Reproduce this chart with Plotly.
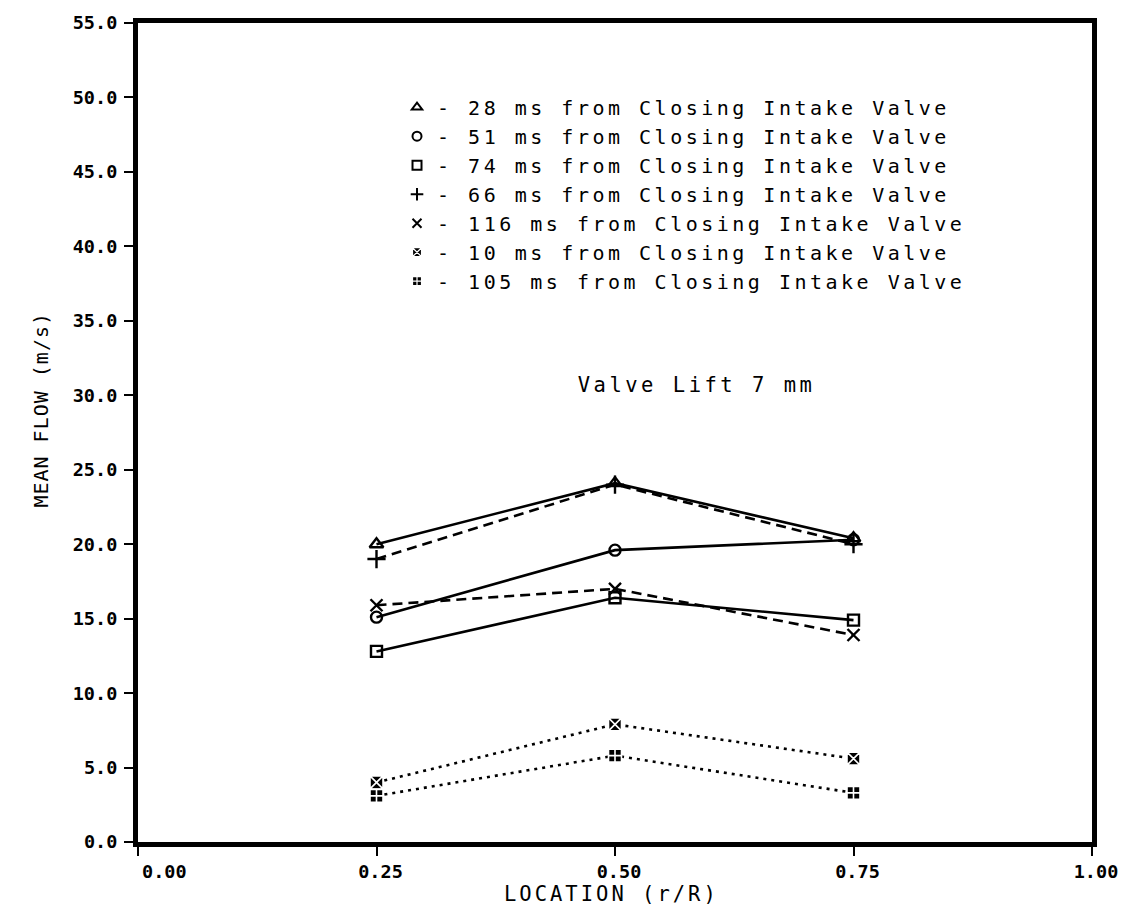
import plotly.graph_objects as go

# Radial location across the port (r/R)
location = [0.25, 0.50, 0.75]

# Mean flow velocity (m/s) at each location, by time after intake valve closing
flow_28ms = [20.0, 24.1, 20.4]
flow_51ms = [15.1, 19.6, 20.3]
flow_74ms = [12.8, 16.4, 14.9]
flow_66ms = [19.0, 24.0, 20.0]
flow_116ms = [15.9, 17.0, 13.9]
flow_10ms = [4.0, 7.9, 5.6]
flow_105ms = [3.1, 5.8, 3.3]

series_names = [
    "- 28 ms from Closing Intake Valve",
    "- 51 ms from Closing Intake Valve",
    "- 74 ms from Closing Intake Valve",
    "- 66 ms from Closing Intake Valve",
    "- 116 ms from Closing Intake Valve",
    "- 10 ms from Closing Intake Valve",
    "- 105 ms from Closing Intake Valve",
]

x_tick_vals = [0.0, 0.25, 0.50, 0.75, 1.00]
x_tick_text = ["\u00a0\u00a0\u00a0\u00a00.00", "0.25", "0.50", "0.75", "1.00"]
y_tick_vals = [0, 5, 10, 15, 20, 25, 30, 35, 40, 45, 50, 55]
y_tick_text = ["0.0", "5.0", "10.0", "15.0", "20.0", "25.0", "30.0",
               "35.0", "40.0", "45.0", "50.0", "55.0"]

MONO = "DejaVu Sans Mono"
INK = "black"

styles = [
    # (values, symbol, dash, marker size, marker fill, marker line colour)
    (flow_28ms, "triangle-up-open", "solid", 12, INK, INK),
    (flow_51ms, "circle-open", "solid", 11, INK, INK),
    (flow_74ms, "square-open", "solid", 11, INK, INK),
    (flow_66ms, "cross-thin-open", "10px,6px", 13, INK, INK),
    (flow_116ms, "x-thin-open", "10px,6px", 12, INK, INK),
    (flow_10ms, "square-x", "3px,5px", 13, INK, "white"),
    (flow_105ms, "square-cross", "3px,5px", 13, INK, "white"),
]

fig = go.Figure()

for (vals, sym, dash, size, fill, mline), name in zip(styles, series_names):
    is_open = "open" in sym
    fig.add_trace(go.Scatter(
        x=location, y=vals, mode="lines+markers", showlegend=False,
        line=dict(color=INK, width=2.6, dash=dash),
        marker=dict(symbol=sym, size=size, color=fill,
                    line=dict(color=INK if is_open else mline,
                              width=2.4 if is_open else 1.6)),
    ))

# Legend entries show the marker symbol only
for (vals, sym, dash, size, fill, mline), name in zip(styles, series_names):
    is_open = "open" in sym
    fig.add_trace(go.Scatter(
        x=[None], y=[None], mode="markers", name=name, showlegend=True,
        marker=dict(symbol=sym, size=9, color=fill,
                    line=dict(color=INK if is_open else mline,
                              width=2 if is_open else 1.2)),
    ))

L, R, T, B = 138, 38, 19, 73
W, H = 1130, 915
pw, ph = W - L - R, H - T - B

fig.add_annotation(
    text="Valve Lift 7 mm", x=0.585, y=0.558, xref="paper", yref="paper",
    showarrow=False, font=dict(family=MONO, size=20.5, color=INK),
)

# Axis titles
fig.add_annotation(
    text="LOCATION (r/R)", x=(611 - L) / pw, y=(H - B - 894) / ph,
    xref="paper", yref="paper", yanchor="middle",
    showarrow=False, font=dict(family=MONO, size=20.5, color=INK),
)
fig.add_annotation(
    text="MEAN FLOW (m/s)", x=(27 - L) / pw, y=(H - B - 408) / ph,
    xref="paper", yref="paper",
    showarrow=False, textangle=-90, font=dict(family=MONO, size=20, color=INK),
)

fig.update_layout(
    width=W, height=H,
    margin=dict(l=L, r=R, t=T, b=B, pad=0),
    paper_bgcolor="white", plot_bgcolor="white",
    font=dict(family=MONO, color=INK),
    legend=dict(
        x=0.2715, y=0.921, xanchor="left", yanchor="top",
        bgcolor="rgba(0,0,0,0)", borderwidth=0,
        font=dict(family=MONO, size=20, color=INK),
        itemwidth=30, tracegroupgap=0,
    ),
    xaxis=dict(
        range=[0, 1], tickvals=x_tick_vals, ticktext=x_tick_text,
        showgrid=False, zeroline=False,
        showline=True, linewidth=5, linecolor=INK, mirror=True,
        ticks="outside", ticklen=9, tickwidth=2, tickcolor=INK,
        tickfont=dict(family=MONO, size=18.5, color=INK, weight="bold"),
        ticklabelshift=4,
    ),
    yaxis=dict(
        range=[0, 55], tickvals=y_tick_vals, ticktext=y_tick_text,
        showgrid=False, zeroline=False,
        showline=True, linewidth=5, linecolor=INK, mirror=True,
        ticks="outside", ticklen=9, tickwidth=2, tickcolor=INK,
        tickfont=dict(family=MONO, size=18.5, color=INK, weight="bold"),
        ticklabelstandoff=3,
    ),
)

# Wide plotter-style lettering for the legend and the free text;
# the legend box is unclipped so the widened entries stay visible.
letter_spacing_js = """
var gd = document.getElementById('{plot_id}');
gd.querySelectorAll('.legend .scrollbox').forEach(function (s) {
    s.removeAttribute('clip-path');
    s.style.clipPath = 'none';
});
gd.querySelectorAll('.legendtext').forEach(function (t) {
    t.style.letterSpacing = '3.5px';
});
var spacing = {'0': '3.5px', '1': '3px', '2': '1px'};
gd.querySelectorAll('g.annotation').forEach(function (a) {
    var t = a.querySelector('.annotation-text');
    var i = a.getAttribute('data-index');
    if (t && spacing[i]) { t.style.letterSpacing = spacing[i]; }
});
"""

fig.write_html("out.html", post_script=letter_spacing_js)
